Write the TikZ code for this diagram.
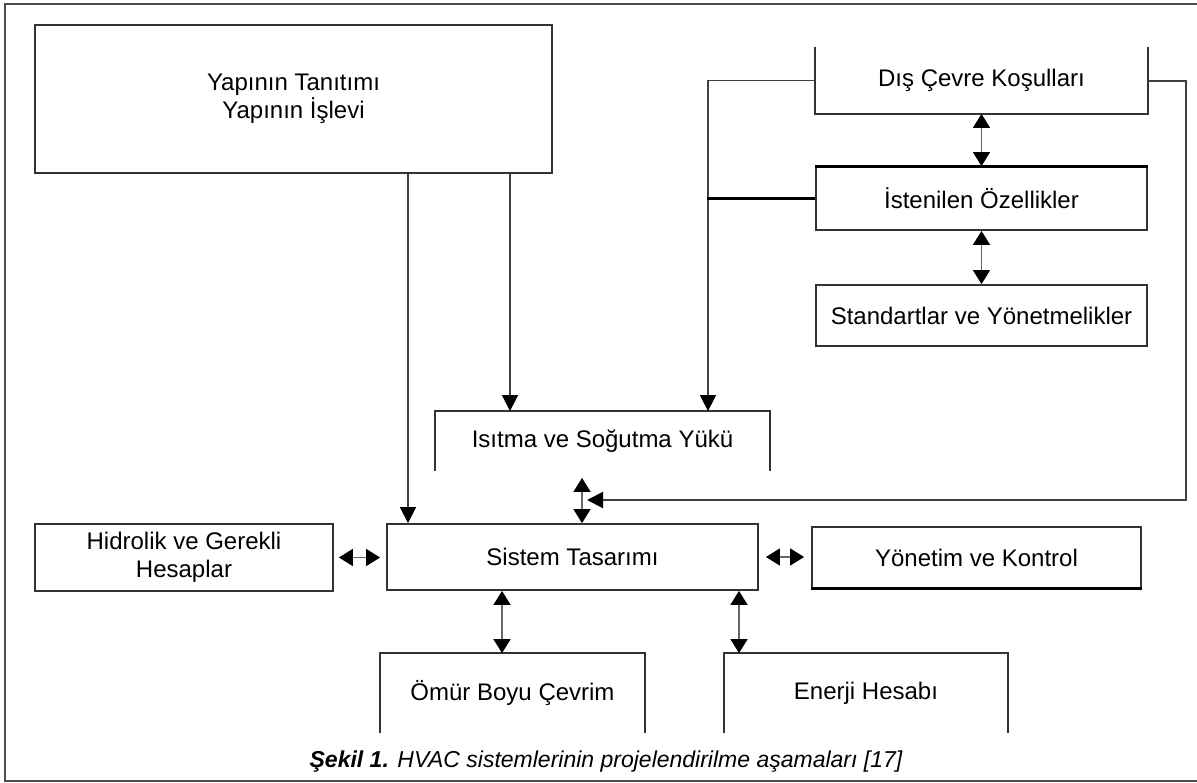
\documentclass[tikz,border=0pt]{standalone}
\usepackage{fontspec}
\setmainfont{Liberation Sans}
\usetikzlibrary{arrows.meta, positioning}

\begin{document}
\begin{tikzpicture}[x=1pt, y=-1pt,
  box/.style={draw=black!80, line width=1.8pt, inner sep=0pt, align=center, font=\fontsize{24}{28}\selectfont},
  openbox/.style={box, draw=none},
  side/.style={draw=black!80, line width=1.8pt},
  kalin/.style={draw=black, line width=3pt},
  arr/.style={-{Triangle[length=16pt, width=16pt, color=black]}, line width=1.5pt, draw=black!75},
  darr/.style={{Triangle[length=14pt, width=17pt, color=black]}-{Triangle[length=14pt, width=17pt, color=black]}, line width=1.5pt, draw=black!60}
]
  \useasboundingbox (0,0) rectangle (1197,782);
  % frame
  \draw[line width=1.5pt, black!70] (1197,4) -- (5,4) -- (5,781) -- (1197,781);

  \node[box, minimum width=517pt, minimum height=148pt] (yapi) at (293.5,99) {Yapının Tanıtımı\\Yapının İşlevi};
  \node[openbox, minimum width=331pt, minimum height=65pt] (dis) at (981.5,80.5) {Dış Çevre Koşulları};
  \node[box, minimum width=331pt, minimum height=63pt] (isten) at (981.5,198.5) {İstenilen Özellikler};
  \node[box, minimum width=331pt, minimum height=61pt] (stand) at (981.5,315.5) {Standartlar ve Yönetmelikler};
  \node[openbox, minimum width=333pt, minimum height=58pt] (isitma) at (602.5,441) {Isıtma ve Soğutma Yükü};
  \node[box, minimum width=371pt, minimum height=66pt] (sistem) at (572.5,557) {Sistem Tasarımı};
  \node[box, minimum width=298pt, minimum height=67pt] (hidro) at (184,557.5) {Hidrolik ve Gerekli\\Hesaplar};
  \node[box, minimum width=329pt, minimum height=61pt] (yonetim) at (976.5,557.5) {Yönetim ve Kontrol};
  \node[openbox, minimum width=263pt, minimum height=78pt] (omur) at (512.5,693) {Ömür Boyu Çevrim};
  \node[openbox, minimum width=282pt, minimum height=78pt] (enerji) at (866,693) {Enerji Hesabı};
  \coordinate (birlesim) at (582,500);

  % open sides
  \draw[side] (dis.north west) -- (dis.south west) -- (dis.south east) -- (dis.north east);
  \draw[side] (isitma.south west) -- (isitma.north west) -- (isitma.north east) -- (isitma.south east);
  \draw[side] (omur.south west) -- (omur.north west) -- (omur.north east) -- (omur.south east);
  \draw[side] (enerji.south west) -- (enerji.north west) -- (enerji.north east) -- (enerji.south east);
  \draw[kalin] (isten.north west) -- (isten.north east);
  \draw[kalin] (yonetim.south west) -- (yonetim.south east);

  \draw[arr] ([xshift=114.5pt]yapi.south) -- ([xshift=114.5pt]yapi.south |- sistem.north);
  \draw[arr] ([xshift=216.5pt]yapi.south) -- ([xshift=216.5pt]yapi.south |- isitma.north);
  \draw[arr] (dis.west) -| ([xshift=105.5pt]isitma.north);
  \draw[kalin] (isten.west) -- ++(-108,0);
  \draw[arr, line width=2pt] (dis.east) -- ++(38,0) |- ([xshift=5pt]birlesim);
  \draw[darr, shorten <=7pt] ([xshift=-20.5pt]isitma.south) -- ([xshift=9.5pt]sistem.north);
  \draw[darr] (dis.south) -- (isten.north);
  \draw[darr] (isten.south) -- (stand.north);
  \draw[darr, shorten <=5pt, shorten >=6pt] (hidro.east) -- (hidro.east -| sistem.west);
  \draw[darr, shorten <=7pt, shorten >=7pt] (sistem.east) -- (sistem.east -| yonetim.west);
  \draw[darr] ([xshift=-70.5pt]sistem.south) -- ([xshift=-70.5pt]sistem.south |- omur.north);
  \draw[darr] ([xshift=166.5pt]sistem.south) -- ([xshift=166.5pt]sistem.south |- enerji.north);

  \node[font=\fontsize{23}{27}\selectfont\itshape] (baslik) at (606,762) {\textbf{Şekil 1.} HVAC sistemlerinin projelendirilme aşamaları [17]};
\end{tikzpicture}
\end{document}
